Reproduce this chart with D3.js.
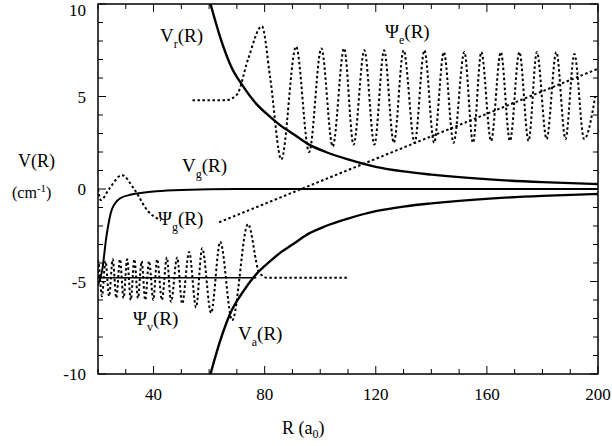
<!DOCTYPE html>
<html><head><meta charset="utf-8">
<script src="https://cdn.jsdelivr.net/npm/d3@7"></script>
<style>body{margin:0;background:#fff}text{font-family:"Liberation Serif","DejaVu Serif",serif;fill:#000}</style>
</head><body><svg id="c" width="612" height="446"></svg>
<script>
const xTicks=[40,80,120,160,200];
const yTicks=[10,5,0,-5,-10];
const vrR=[60.5,64,68,72,77,82,86,90,96,102,110,120,130,140,150,165,180,200];
const vrV=[10,8.2,6.6,5.6,4.6,3.9,3.4,3.0,2.4,2.0,1.6,1.2,0.95,0.78,0.64,0.48,0.37,0.27];
const vaR=vrR;
const vaV=vrV.map(v=>-v);
const vgR=[20,21.5,23,25,28,32,36,41,50,70,100,200];
const vgV=[-5.2,-4.4,-2.6,-1.1,-0.5,-0.3,-0.2,-0.12,-0.05,0,0,0];
const psiGR=[20,21,24,28.6,33,38,42.7,null,63.6,200];
const psiGV=[0,-0.6,0,0.75,0,-1.2,-1.7,null,-1.8,6.5];
const psiER=[54,66,70,74,79,82,86,91.3,96,100.4,104.5,108.6,112,115.9,119.5,123,126.5,130,134,137.5,141,144.5,148,151.9,155,158,161.5,165,168.3,171.7,175,178,181.5,185,188.3,191.5,195,199];
const psiEV=[4.8,4.8,5.1,7,8.8,6,1.6,7.7,2.0,7.6,2.3,7.6,2.4,7.5,2.4,7.5,2.5,7.5,2.5,7.5,2.5,7.4,2.5,7.4,2.5,7.4,2.6,7.4,2.6,7.4,2.6,7.4,2.7,7.4,2.7,7.3,2.7,5];
const psiVR=[20,20.1,21.4,22.7,24.0,25.3,26.6,27.9,29.2,30.5,31.8,33.1,34.4,35.7,37.0,38.4,39.9,41.3,43,44.8,46.3,48.5,50.3,52.8,55.3,57.5,60.7,64,68.3,74,78,81,110];
const psiVV=[-4.8,-3.9,-5.8,-3.9,-5.8,-3.8,-5.9,-3.8,-5.9,-3.8,-6.0,-3.8,-5.9,-3.9,-6.0,-3.9,-6.0,-3.8,-6.0,-3.7,-6.1,-3.7,-6.2,-3.4,-6.4,-3.2,-6.7,-2.85,-7.1,-1.9,-4.5,-4.8,-4.8];
const baseR=[20,77];const baseV=[-4.8,-4.8];

const svg=d3.select("#c");
const L=98,Rr=598,T=4,B=374;
const x=d3.scaleLinear().domain([20,200]).range([L,Rr]);
const y=d3.scaleLinear().domain([-10,10]).range([B,T]);
const g=svg.append("g");
g.append("rect").attr("x",L).attr("y",T).attr("width",Rr-L).attr("height",B-T).attr("fill","none").attr("stroke","#000").attr("stroke-width",1.5);
const minorX=d3.range(20,201,10), minorY=d3.range(-10,11,1);
minorX.forEach(v=>{const big=v%40===0;const l=big?8:5;
 g.append("line").attr("x1",x(v)).attr("x2",x(v)).attr("y1",B).attr("y2",B-l).attr("stroke","#000");
 g.append("line").attr("x1",x(v)).attr("x2",x(v)).attr("y1",T).attr("y2",T+l).attr("stroke","#000");});
minorY.forEach(v=>{const big=v%5===0;const l=big?8:5;
 g.append("line").attr("y1",y(v)).attr("y2",y(v)).attr("x1",L).attr("x2",L+l).attr("stroke","#000");
 g.append("line").attr("y1",y(v)).attr("y2",y(v)).attr("x1",Rr).attr("x2",Rr-l).attr("stroke","#000");});
xTicks.forEach(v=>g.append("text").attr("x",x(v)).attr("y",400).attr("text-anchor","middle").attr("font-size",17).text(v));
yTicks.forEach(v=>g.append("text").attr("x",86).attr("y",Math.max(y(v)+6,16)).attr("text-anchor","end").attr("font-size",17).text(v));
svg.append("defs").append("clipPath").attr("id","cp").append("rect").attr("x",L).attr("y",T).attr("width",Rr-L).attr("height",B-T);
const pg=svg.append("g").attr("clip-path","url(#cp)");
function draw(R,V,dash,w,curve){
 const data=R.map((r,i)=>[r,V[i]]);
 pg.append("path").attr("d",d3.line().defined(d=>d[0]!==null).x(d=>x(d[0])).y(d=>y(d[1])).curve(curve)(data))
  .attr("fill","none").attr("stroke","#000").attr("stroke-width",w).attr("stroke-dasharray",dash);
}
draw(vrR,vrV,null,2.4,d3.curveMonotoneX);
draw(vaR,vaV,null,2.4,d3.curveMonotoneX);
draw(vgR,vgV,null,2,d3.curveMonotoneX);
draw(baseR,baseV,null,1.6,d3.curveLinear);
draw(psiGR,psiGV,"2.5,2.5",2,d3.curveMonotoneX);
draw(psiER,psiEV,"2.5,2.5",2,d3.curveMonotoneX);
draw(psiVR,psiVV,"2.5,2.5",2,d3.curveMonotoneX);
function lab(xp,yp,main,sub,extra){const t=svg.append("text").attr("x",xp).attr("y",yp).attr("font-size",19);
 t.append("tspan").text(main);
 if(sub)t.append("tspan").attr("dy",6).attr("font-size",12).text(sub);
 t.append("tspan").attr("dy",sub?-6:0).text(extra);}
lab(160,42,"V","r","(R)");
lab(385,38,"Ψ","e","(R)");
lab(182,172,"V","g","(R)");
lab(158,225,"Ψ","g","(R)");
lab(133,325,"Ψ","v","(R)");
lab(238,340,"V","a","(R)");
svg.append("text").attr("x",18).attr("y",167).attr("font-size",18).text("V(R)");
const cm=svg.append("text").attr("x",12).attr("y",198).attr("font-size",16);
cm.append("tspan").text("(cm");cm.append("tspan").attr("dy",-6).attr("font-size",11).text("-1");cm.append("tspan").attr("dy",6).text(")");
const xl=svg.append("text").attr("x",282).attr("y",434).attr("font-size",18);
xl.append("tspan").text("R  (a");xl.append("tspan").attr("dy",4).attr("font-size",12).text("0");xl.append("tspan").attr("dy",-4).text(")");
</script></body></html>
